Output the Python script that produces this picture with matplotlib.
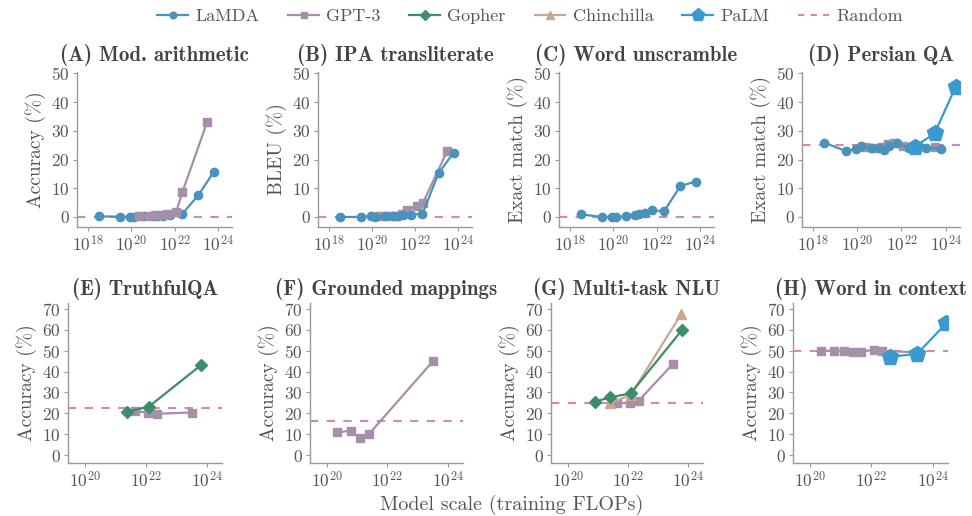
import numpy as np
import matplotlib
matplotlib.use("Agg")
import matplotlib.pyplot as plt
from matplotlib.lines import Line2D

plt.rcParams['font.family'] = 'cmr10'
plt.rcParams['mathtext.fontset'] = 'cm'
plt.rcParams['axes.formatter.use_mathtext'] = True

# training FLOPs, as log10
lamda_x = [18.5, 19.5, 19.95, 20.15, 20.6, 21.0, 21.2, 21.45, 21.8, 22.35, 23.1, 23.8]
gpt3_x = [20.35, 20.8, 21.1, 21.4, 21.65, 22.08, 22.36, 23.5]
gopher_x = [20.9, 21.4, 22.1, 23.8]
chinchilla_x = [21.4, 22.1, 23.77]
palm_x = [22.6, 23.5, 24.45]

# (A) Mod. arithmetic
a_lamda = [0.2, 0.1, 0.1, 0.0, 0.2, 0.3, 0.4, 0.5, 0.7, 1.0, 7.6, 15.6]
a_gpt3 = [0.5, 0.5, 0.7, 0.8, 1.0, 1.8, 8.6, 33.0]
# (B) IPA transliterate
b_lamda = [0.0, 0.0, 0.2, 0.1, 0.3, 0.3, 0.5, 0.6, 0.8, 1.1, 15.3, 22.4]
b_gpt3 = [0.5, 0.2, 0.5, 1.0, 2.4, 3.9, 4.7, 23.0]
# (C) Word unscramble
c_lamda = [0.9, 0.0, 0.0, 0.0, 0.3, 0.8, 1.2, 1.4, 2.3, 2.0, 10.8, 12.3]
# (D) Persian QA
d_lamda = [25.9, 22.9, 23.8, 24.6, 23.9, 24.1, 23.2, 24.8, 25.6, 24.1, 24.0, 23.8]
d_gpt3 = [24.5, 24.0, 24.2, 25.5, 25.8, 24.8, 24.5, 24.3]
d_palm = [24.5, 29.1, 45.3]
# (E) TruthfulQA
e_gopher = [20.8, 23.2, 43.0]
e_gpt3 = [21.0, 20.4, 19.8, 20.4]
# (F) Grounded mappings
f_gpt3 = [10.9, 11.7, 8.0, 10.1, 44.9]
# (G) Multi-task NLU
g_gopher = [25.6, 27.6, 29.6, 59.9]
g_chinchilla = [24.8, 28.8, 67.5]
g_gpt3 = [25.2, 24.8, 26.0, 43.7]
# (H) Word in context
h_gpt3 = [50.0, 50.0, 50.0, 49.5, 49.5, 50.5, 50.0, 49.2]
h_palm = [47.0, 48.6, 63.3]

random_level = [0, 0, 0, 25, 22.6, 16.5, 25, 50]
titles = ["(A) Mod. arithmetic", "(B) IPA transliterate", "(C) Word unscramble",
          "(D) Persian QA", "(E) TruthfulQA", "(F) Grounded mappings",
          "(G) Multi-task NLU", "(H) Word in context"]
ylabels = ["Accuracy (%)", "BLEU (%)", "Exact match (%)", "Exact match (%)",
           "Accuracy (%)", "Accuracy (%)", "Accuracy (%)", "Accuracy (%)"]

c_lamda_col = '#4a92bc'
c_gpt3_col = '#a68fa8'
c_gopher_col = '#3d8c6c'
c_chin_col = '#c8a98e'
c_palm_col = '#3a9ad0'
c_rand_col = '#d68aa4'
text_col = '#555555'

styles = {
    'LaMDA': dict(color=c_lamda_col, marker='o', ms=6),
    'GPT-3': dict(color=c_gpt3_col, marker='s', ms=6),
    'Gopher': dict(color=c_gopher_col, marker='D', ms=6),
    'Chinchilla': dict(color=c_chin_col, marker='^', ms=7),
    'PaLM': dict(color=c_palm_col, marker='p', ms=12),
}

fig = plt.figure(figsize=(9.72, 5.16), dpi=100)
W, H = 972.0, 516.0
top_boxes = [(77, 232), (318, 472), (559, 714), (802, 960)]
bot_boxes = [(68, 222), (310, 463), (551, 703), (793, 948)]
axes = []
for (l, r) in top_boxes:
    axes.append(fig.add_axes([l / W, 1 - 227 / H, (r - l) / W, 155 / H]))
for (l, r) in bot_boxes:
    axes.append(fig.add_axes([l / W, 1 - 463 / H, (r - l) / W, 160 / H]))


def draw(ax, name, xs, ys):
    st = styles[name]
    ax.plot(10 ** np.array(xs), ys, color=st['color'], marker=st['marker'],
            ms=st['ms'], lw=1.6, zorder=3)


draw(axes[0], 'LaMDA', lamda_x, a_lamda)
draw(axes[0], 'GPT-3', gpt3_x, a_gpt3)
draw(axes[1], 'GPT-3', gpt3_x, b_gpt3)
draw(axes[1], 'LaMDA', lamda_x, b_lamda)
draw(axes[2], 'LaMDA', lamda_x, c_lamda)
draw(axes[3], 'GPT-3', gpt3_x, d_gpt3)
draw(axes[3], 'LaMDA', lamda_x, d_lamda)
draw(axes[3], 'PaLM', palm_x, d_palm)
draw(axes[4], 'GPT-3', gpt3_x[4:], e_gpt3)
draw(axes[4], 'Gopher', gopher_x[1:], e_gopher)
draw(axes[5], 'GPT-3', gpt3_x[:4] + gpt3_x[-1:], f_gpt3)
draw(axes[6], 'GPT-3', gpt3_x[4:], g_gpt3)
draw(axes[6], 'Chinchilla', chinchilla_x, g_chinchilla)
draw(axes[6], 'Gopher', gopher_x, g_gopher)
draw(axes[7], 'GPT-3', gpt3_x, h_gpt3)
draw(axes[7], 'PaLM', palm_x, h_palm)

for i, ax in enumerate(axes):
    ax.axhline(random_level[i], color=c_rand_col, ls=(0, (4, 4)), lw=1.5, zorder=2)
    ax.set_xscale('log')
    if i < 4:
        ax.set_xlim(10 ** 17.5, 10 ** 24.65)
        ax.set_xticks([1e18, 1e20, 1e22, 1e24])
        ax.set_ylim(-3.5, 50.5)
        ax.set_yticks(range(0, 51, 10))
        pad = 8
    else:
        ax.set_xlim(10 ** 19.45, 10 ** 24.5)
        ax.set_xticks([1e20, 1e22, 1e24])
        ax.set_ylim(-3.8, 72.9)
        ax.set_yticks(range(0, 71, 10))
        pad = 6
    ax.minorticks_off()
    ax.set_title(titles[i], family='cmb10', fontsize=15, color='#444444', pad=pad)
    ax.set_ylabel(ylabels[i], fontsize=14, color=text_col, labelpad=4)
    for s in ['top', 'right']:
        ax.spines[s].set_visible(False)
    for s in ['left', 'bottom']:
        ax.spines[s].set_color('#999999')
        ax.spines[s].set_linewidth(1.0)
    ax.tick_params(colors='#999999', labelcolor=text_col, labelsize=12.5, length=3,
                   width=0.8, pad=2)

handles = []
for name in ['LaMDA', 'GPT-3', 'Gopher', 'Chinchilla', 'PaLM']:
    st = styles[name]
    handles.append(Line2D([], [], color=st['color'], marker=st['marker'],
                          ms=st['ms'] * 0.8, lw=1.6, label=name))
handles.append(Line2D([], [], color=c_rand_col, ls=(0, (3, 3)), lw=1.5, label='Random'))
fig.legend(handles=handles, loc='center', bbox_to_anchor=(530 / W, 1 - 16 / H), ncol=6,
           frameon=False, fontsize=13, handlelength=1.7, columnspacing=1.6,
           handletextpad=0.4, labelcolor=text_col)

fig.text(512 / W, 1 - 505 / H, 'Model scale (training FLOPs)', ha='center', va='center',
         fontsize=14.5, color=text_col)

fig.savefig('out.png', dpi=100, facecolor='white')
